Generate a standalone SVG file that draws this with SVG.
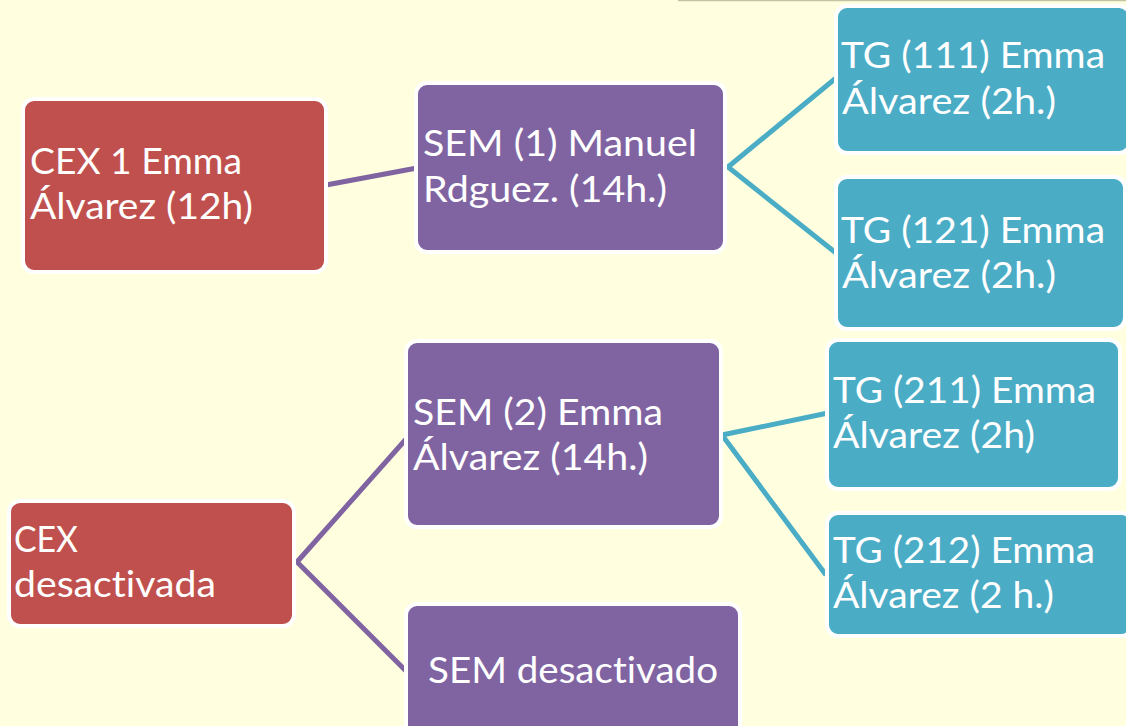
<svg xmlns="http://www.w3.org/2000/svg" width="1126" height="726" viewBox="0 0 1126 726">
<style>
.bg{fill:#FFFFE0}
.box{stroke:#FFFFFF;stroke-width:4}
.red{fill:#C0504D}
.pur{fill:#8064A2}
.teal{fill:#4BACC6}
.t{font-family:Lato,"Open Sans","Liberation Sans",sans-serif;font-size:37px;fill:#FFFFFF;font-variant-ligatures:none;font-feature-settings:"liga" 0}
.lp{stroke:#8064A2;stroke-width:5;fill:none}
.lt{stroke:#4BACC6;stroke-width:5;fill:none}
</style>
<rect class="bg" x="0" y="0" width="1126" height="726"/>
<line x1="678" y1="0.5" x2="1126" y2="0.5" stroke="#C4C4A4" stroke-width="1.5"/>
<g id="connectors">
<polyline class="lp" points="326,185 417,168"/>
<polyline class="lt" points="836,78 728,167 836,253"/>
<polyline class="lp" points="407,438 297,562 407,672"/>
<polyline class="lt" points="828,413 722,435 826,575"/>
</g>
<g id="cex1">
<rect class="box red" x="23" y="99" width="303" height="173" rx="11"/>
<text class="t" x="30" y="174" textLength="212" lengthAdjust="spacingAndGlyphs">CEX 1 Emma</text>
<text class="t" x="30" y="219" textLength="223" lengthAdjust="spacingAndGlyphs">Álvarez (12h)</text>
</g>
<g id="sem1">
<rect class="box pur" x="416" y="83" width="309" height="169" rx="11"/>
<text class="t" x="423" y="156" textLength="274" lengthAdjust="spacingAndGlyphs">SEM (1) Manuel</text>
<text class="t" x="423" y="202" textLength="244" lengthAdjust="spacingAndGlyphs">Rdguez. (14h.)</text>
</g>
<g id="tg111">
<rect class="box teal" x="836" y="6" width="294" height="147" rx="11"/>
<text class="t" x="841" y="68" textLength="264" lengthAdjust="spacingAndGlyphs">TG (111) Emma</text>
<text class="t" x="842" y="114" textLength="214" lengthAdjust="spacingAndGlyphs">Álvarez (2h.)</text>
</g>
<g id="tg121">
<rect class="box teal" x="836" y="177" width="289" height="152" rx="11"/>
<text class="t" x="841" y="243" textLength="264" lengthAdjust="spacingAndGlyphs">TG (121) Emma</text>
<text class="t" x="842" y="288" textLength="214" lengthAdjust="spacingAndGlyphs">Álvarez (2h.)</text>
</g>
<g id="sem2">
<rect class="box pur" x="406" y="341" width="315" height="186" rx="11"/>
<text class="t" x="413" y="425" textLength="250" lengthAdjust="spacingAndGlyphs">SEM (2) Emma</text>
<text class="t" x="413" y="470" textLength="235" lengthAdjust="spacingAndGlyphs">Álvarez (14h.)</text>
</g>
<g id="tg211">
<rect class="box teal" x="827" y="340" width="293" height="149" rx="11"/>
<text class="t" x="833" y="403" textLength="263" lengthAdjust="spacingAndGlyphs">TG (211) Emma</text>
<text class="t" x="833" y="448" textLength="202" lengthAdjust="spacingAndGlyphs">Álvarez (2h)</text>
</g>
<g id="tg212">
<rect class="box teal" x="827" y="513" width="305" height="123" rx="11"/>
<text class="t" x="833" y="563" textLength="262" lengthAdjust="spacingAndGlyphs">TG (212) Emma</text>
<text class="t" x="833" y="608" textLength="221" lengthAdjust="spacingAndGlyphs">Álvarez (2 h.)</text>
</g>
<g id="cexdes">
<rect class="box red" x="9" y="501" width="285" height="125" rx="11"/>
<text class="t" x="14" y="552" textLength="64" lengthAdjust="spacingAndGlyphs">CEX</text>
<text class="t" x="14" y="597" textLength="202" lengthAdjust="spacingAndGlyphs">desactivada</text>
</g>
<g id="semdes">
<rect class="box pur" x="406" y="604" width="334" height="140" rx="11"/>
<text class="t" x="428" y="683" textLength="290" lengthAdjust="spacingAndGlyphs">SEM desactivado</text>
</g>
</svg>
